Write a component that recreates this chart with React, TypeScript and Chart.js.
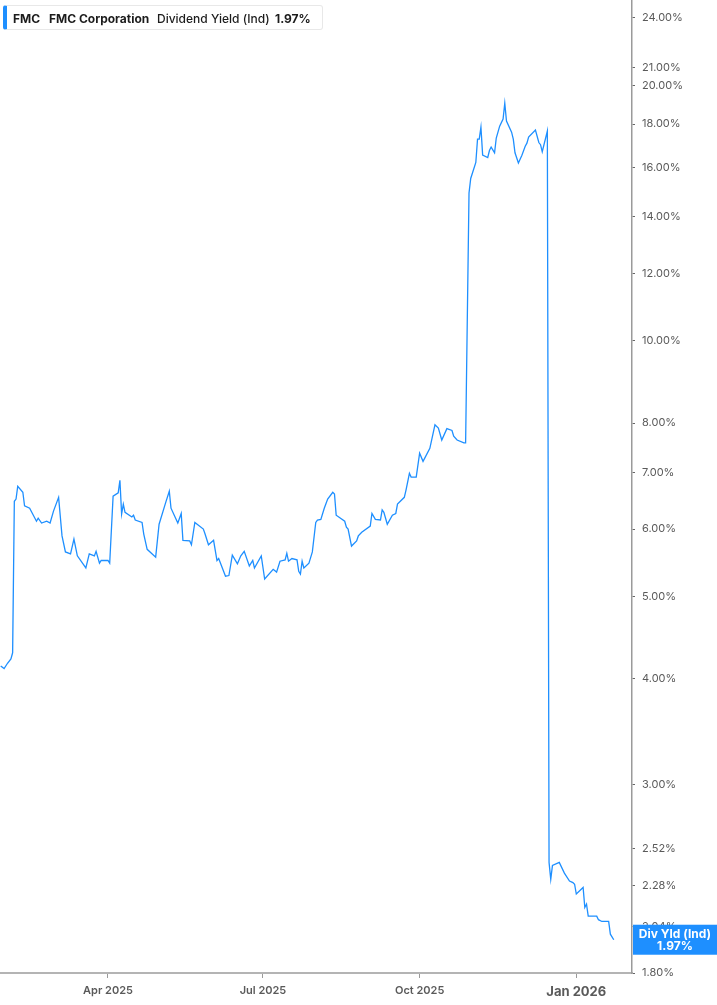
import { useEffect, useRef } from 'react';
import { Chart, registerables } from 'chart.js';

Chart.register(...registerables);

// daily indicated dividend yield (%)
const dates = [
  '2025-01-28', '2025-01-30', '2025-02-01', '2025-02-03', '2025-02-04', '2025-02-05', '2025-02-06', '2025-02-07',
  '2025-02-10', '2025-02-11', '2025-02-14', '2025-02-18', '2025-02-19', '2025-02-21', '2025-02-24', '2025-02-26',
  '2025-02-28', '2025-03-03', '2025-03-05', '2025-03-07', '2025-03-10', '2025-03-12', '2025-03-14', '2025-03-19',
  '2025-03-21', '2025-03-24', '2025-03-25', '2025-03-27', '2025-03-28', '2025-04-01', '2025-04-02', '2025-04-04',
  '2025-04-07', '2025-04-08', '2025-04-09', '2025-04-10', '2025-04-11', '2025-04-15', '2025-04-16', '2025-04-17',
  '2025-04-21', '2025-04-22', '2025-04-24', '2025-04-29', '2025-05-01', '2025-05-05', '2025-05-07', '2025-05-08',
  '2025-05-12', '2025-05-14', '2025-05-15', '2025-05-19', '2025-05-20', '2025-05-22', '2025-05-27', '2025-05-28',
  '2025-05-30', '2025-06-02', '2025-06-04', '2025-06-05', '2025-06-09', '2025-06-11', '2025-06-13', '2025-06-16',
  '2025-06-18', '2025-06-20', '2025-06-23', '2025-06-25', '2025-06-26', '2025-06-30', '2025-07-02', '2025-07-07',
  '2025-07-09', '2025-07-11', '2025-07-14', '2025-07-15', '2025-07-16', '2025-07-18', '2025-07-21', '2025-07-22',
  '2025-07-23', '2025-07-24', '2025-07-25', '2025-07-28', '2025-07-30', '2025-08-01', '2025-08-02', '2025-08-04',
  '2025-08-06', '2025-08-08', '2025-08-11', '2025-08-12', '2025-08-13', '2025-08-18', '2025-08-19', '2025-08-20',
  '2025-08-22', '2025-08-25', '2025-08-26', '2025-08-28', '2025-09-02', '2025-09-03', '2025-09-05', '2025-09-08',
  '2025-09-09', '2025-09-10', '2025-09-12', '2025-09-15', '2025-09-17', '2025-09-18', '2025-09-22', '2025-09-23',
  '2025-09-25', '2025-09-26', '2025-09-29', '2025-10-01', '2025-10-03', '2025-10-07', '2025-10-10', '2025-10-12',
  '2025-10-14', '2025-10-17', '2025-10-20', '2025-10-21', '2025-10-23', '2025-10-27', '2025-10-28', '2025-10-30',
  '2025-10-31', '2025-11-03', '2025-11-04', '2025-11-05', '2025-11-06', '2025-11-07', '2025-11-10', '2025-11-11',
  '2025-11-12', '2025-11-14', '2025-11-15', '2025-11-17', '2025-11-19', '2025-11-20', '2025-11-21', '2025-11-24',
  '2025-11-25', '2025-11-26', '2025-11-28', '2025-11-30', '2025-12-02', '2025-12-03', '2025-12-04', '2025-12-08',
  '2025-12-10', '2025-12-11', '2025-12-12', '2025-12-15', '2025-12-16', '2025-12-17', '2025-12-18', '2025-12-22',
  '2025-12-25', '2025-12-28', '2025-12-30', '2025-12-31', '2026-01-01', '2026-01-05', '2026-01-06', '2026-01-07',
  '2026-01-08', '2026-01-13', '2026-01-14', '2026-01-16', '2026-01-20', '2026-01-21', '2026-01-23',
];

const yields = [
  4.14, 4.11, 4.17, 4.22, 4.29, 6.47, 6.51, 6.74,
  6.63, 6.39, 6.35, 6.13, 6.18, 6.10, 6.13, 6.10,
  6.30, 6.54, 5.89, 5.64, 5.61, 5.84, 5.58, 5.40,
  5.61, 5.58, 5.65, 5.47, 5.51, 5.51, 5.47, 6.56,
  6.62, 6.85, 6.25, 6.42, 6.28, 6.20, 6.23, 6.15,
  6.11, 5.92, 5.68, 5.56, 6.08, 6.46, 6.65, 6.35,
  6.10, 6.26, 5.82, 5.81, 5.75, 6.11, 6.00, 5.92,
  5.75, 5.82, 5.51, 5.54, 5.28, 5.29, 5.59, 5.46,
  5.58, 5.65, 5.43, 5.51, 5.40, 5.58, 5.24, 5.38,
  5.34, 5.50, 5.52, 5.62, 5.50, 5.54, 5.52, 5.35,
  5.31, 5.50, 5.40, 5.47, 5.64, 6.11, 6.15, 6.16,
  6.35, 6.51, 6.63, 6.60, 6.23, 6.13, 6.03, 6.00,
  5.73, 5.81, 5.89, 5.95, 6.05, 6.26, 6.16, 6.15,
  6.32, 6.28, 6.08, 6.23, 6.26, 6.42, 6.54, 6.67,
  6.98, 6.91, 6.91, 7.37, 7.21, 7.47, 7.96, 7.89,
  7.64, 7.88, 7.84, 7.72, 7.64, 7.58, 7.58, 14.93,
  15.53, 16.22, 17.28, 17.28, 17.85, 16.55, 16.44, 16.75,
  16.91, 16.65, 17.33, 17.90, 18.25, 19.05, 18.15, 17.61,
  17.28, 16.65, 16.20, 16.53, 16.95, 17.09, 17.38, 17.71,
  17.12, 17.02, 16.70, 17.66, 2.43, 2.32, 2.41, 2.43,
  2.36, 2.31, 2.30, 2.29, 2.23, 2.27, 2.15, 2.17,
  2.10, 2.10, 2.08, 2.07, 2.07, 2.00, 1.97,
];

const yTicks = [1.8, 2.04, 2.28, 2.52, 3, 4, 5, 6, 7, 8, 10, 12, 14, 16, 18, 20, 21, 24];
const xTickDates = ['2025-04-01', '2025-07-01', '2025-10-01', '2026-01-01'];
const xTickLabels = ['Apr 2025', 'Jul 2025', 'Oct 2025', 'Jan 2026'];

const BLUE = '#1e8fff';
const FONT = 'Inter, "Noto Sans", sans-serif';

const toMs = (d: string) => {
  const [y, m, day] = d.split('-').map(Number);
  return Date.UTC(y, m - 1, day);
};

const lastValueTag = {
  id: 'lastValueTag',
  afterDraw(chart: any) {
    const { ctx, chartArea, scales } = chart;
    const last = yields[yields.length - 1];
    const cy = scales.y.getPixelForValue(last);
    const x0 = chartArea.right + 1;
    const w = chart.width - x0;
    ctx.save();
    ctx.fillStyle = BLUE;
    ctx.fillRect(x0, cy - 15, w, 30);
    ctx.fillStyle = '#ffffff';
    ctx.font = `bold 12px ${FONT}`;
    ctx.textAlign = 'center';
    ctx.textBaseline = 'middle';
    ctx.fillText('Div Yld (Ind)', x0 + w / 2, cy - 5);
    ctx.fillText(`${last.toFixed(2)}%`, x0 + w / 2, cy + 7);
    ctx.restore();
  },
};

export default function App() {
  const canvasRef = useRef<HTMLCanvasElement>(null);
  const chartRef = useRef<Chart | null>(null);

  useEffect(() => {
    if (!canvasRef.current) return;
    if (chartRef.current) chartRef.current.destroy();

    const points = dates.map((d, i) => ({ x: toMs(d), y: yields[i] }));

    chartRef.current = new Chart(canvasRef.current, {
      type: 'line',
      data: {
        datasets: [{
          data: points,
          borderColor: BLUE,
          borderWidth: 1.3,
          pointRadius: 0,
          tension: 0,
        }],
      },
      options: {
        animation: false,
        responsive: true,
        maintainAspectRatio: false,
        layout: { padding: 0 },
        plugins: { legend: { display: false }, tooltip: { enabled: false } },
        scales: {
          x: {
            type: 'linear',
            min: Date.UTC(2025, 0, 27, 14),
            max: Date.UTC(2026, 1, 2, 17),
            afterBuildTicks: (scale: any) => {
              scale.ticks = xTickDates.map(d => ({ value: toMs(d) }));
            },
            afterFit: (scale: any) => {
              scale.height = 32;
              scale.paddingLeft = 0;
              scale.paddingRight = 0;
            },
            border: { color: '#b4b4b4', width: 2 },
            grid: { drawOnChartArea: false, tickLength: 5, color: '#9a9a9a' },
            ticks: {
              autoSkip: false,
              maxRotation: 0,
              padding: 6,
              color: '#5a5a5a',
              font: (c: any) => ({
                family: FONT,
                size: c.index === 3 ? 13 : 11,
                weight: c.index === 3 ? 'bold' : '600',
              }),
              callback: (_v: any, i: number) => xTickLabels[i],
            },
          },
          y: {
            type: 'logarithmic',
            position: 'right',
            min: 1.8,
            max: 25.2,
            afterBuildTicks: (scale: any) => {
              scale.ticks = yTicks.map(v => ({ value: v }));
            },
            afterFit: (scale: any) => {
              scale.width = 85;
              scale.paddingTop = 0;
              scale.paddingBottom = 0;
            },
            border: { color: '#9a9a9a', width: 1.5 },
            grid: { drawOnChartArea: false, tickLength: 3, color: '#666666' },
            ticks: {
              autoSkip: false,
              padding: 7,
              color: '#5a5a5a',
              font: { family: FONT, size: 11 },
              callback: (v: any) => `${Number(v).toFixed(2)}%`,
            },
          },
        },
      },
      plugins: [lastValueTag],
    });

    return () => {
      if (chartRef.current) {
        chartRef.current.destroy();
        chartRef.current = null;
      }
    };
  }, []);

  const label = { position: 'absolute' as const, top: 0, lineHeight: '25px', whiteSpace: 'nowrap' as const };

  return (
    <div style={{ position: 'absolute', left: 0, top: 0, width: 717, height: 1005, background: '#fff', fontFamily: FONT }}>
      <canvas ref={canvasRef} />
      <div style={{
        position: 'absolute', left: 3, top: 5, width: 320, height: 25, boxSizing: 'border-box',
        background: '#fff', border: '1px solid #e8e8e8', borderLeft: `4px solid ${BLUE}`, borderRadius: 3,
        fontSize: 12, color: '#1c1c1c',
      }}>
        <span style={{ ...label, left: 6, fontWeight: 700 }}>FMC</span>
        <span style={{ ...label, left: 42, fontWeight: 700 }}>FMC Corporation</span>
        <span style={{ ...label, left: 150, fontWeight: 500 }}>Dividend Yield (Ind)</span>
        <span style={{ ...label, left: 268, fontWeight: 700 }}>1.97%</span>
      </div>
    </div>
  );
}
